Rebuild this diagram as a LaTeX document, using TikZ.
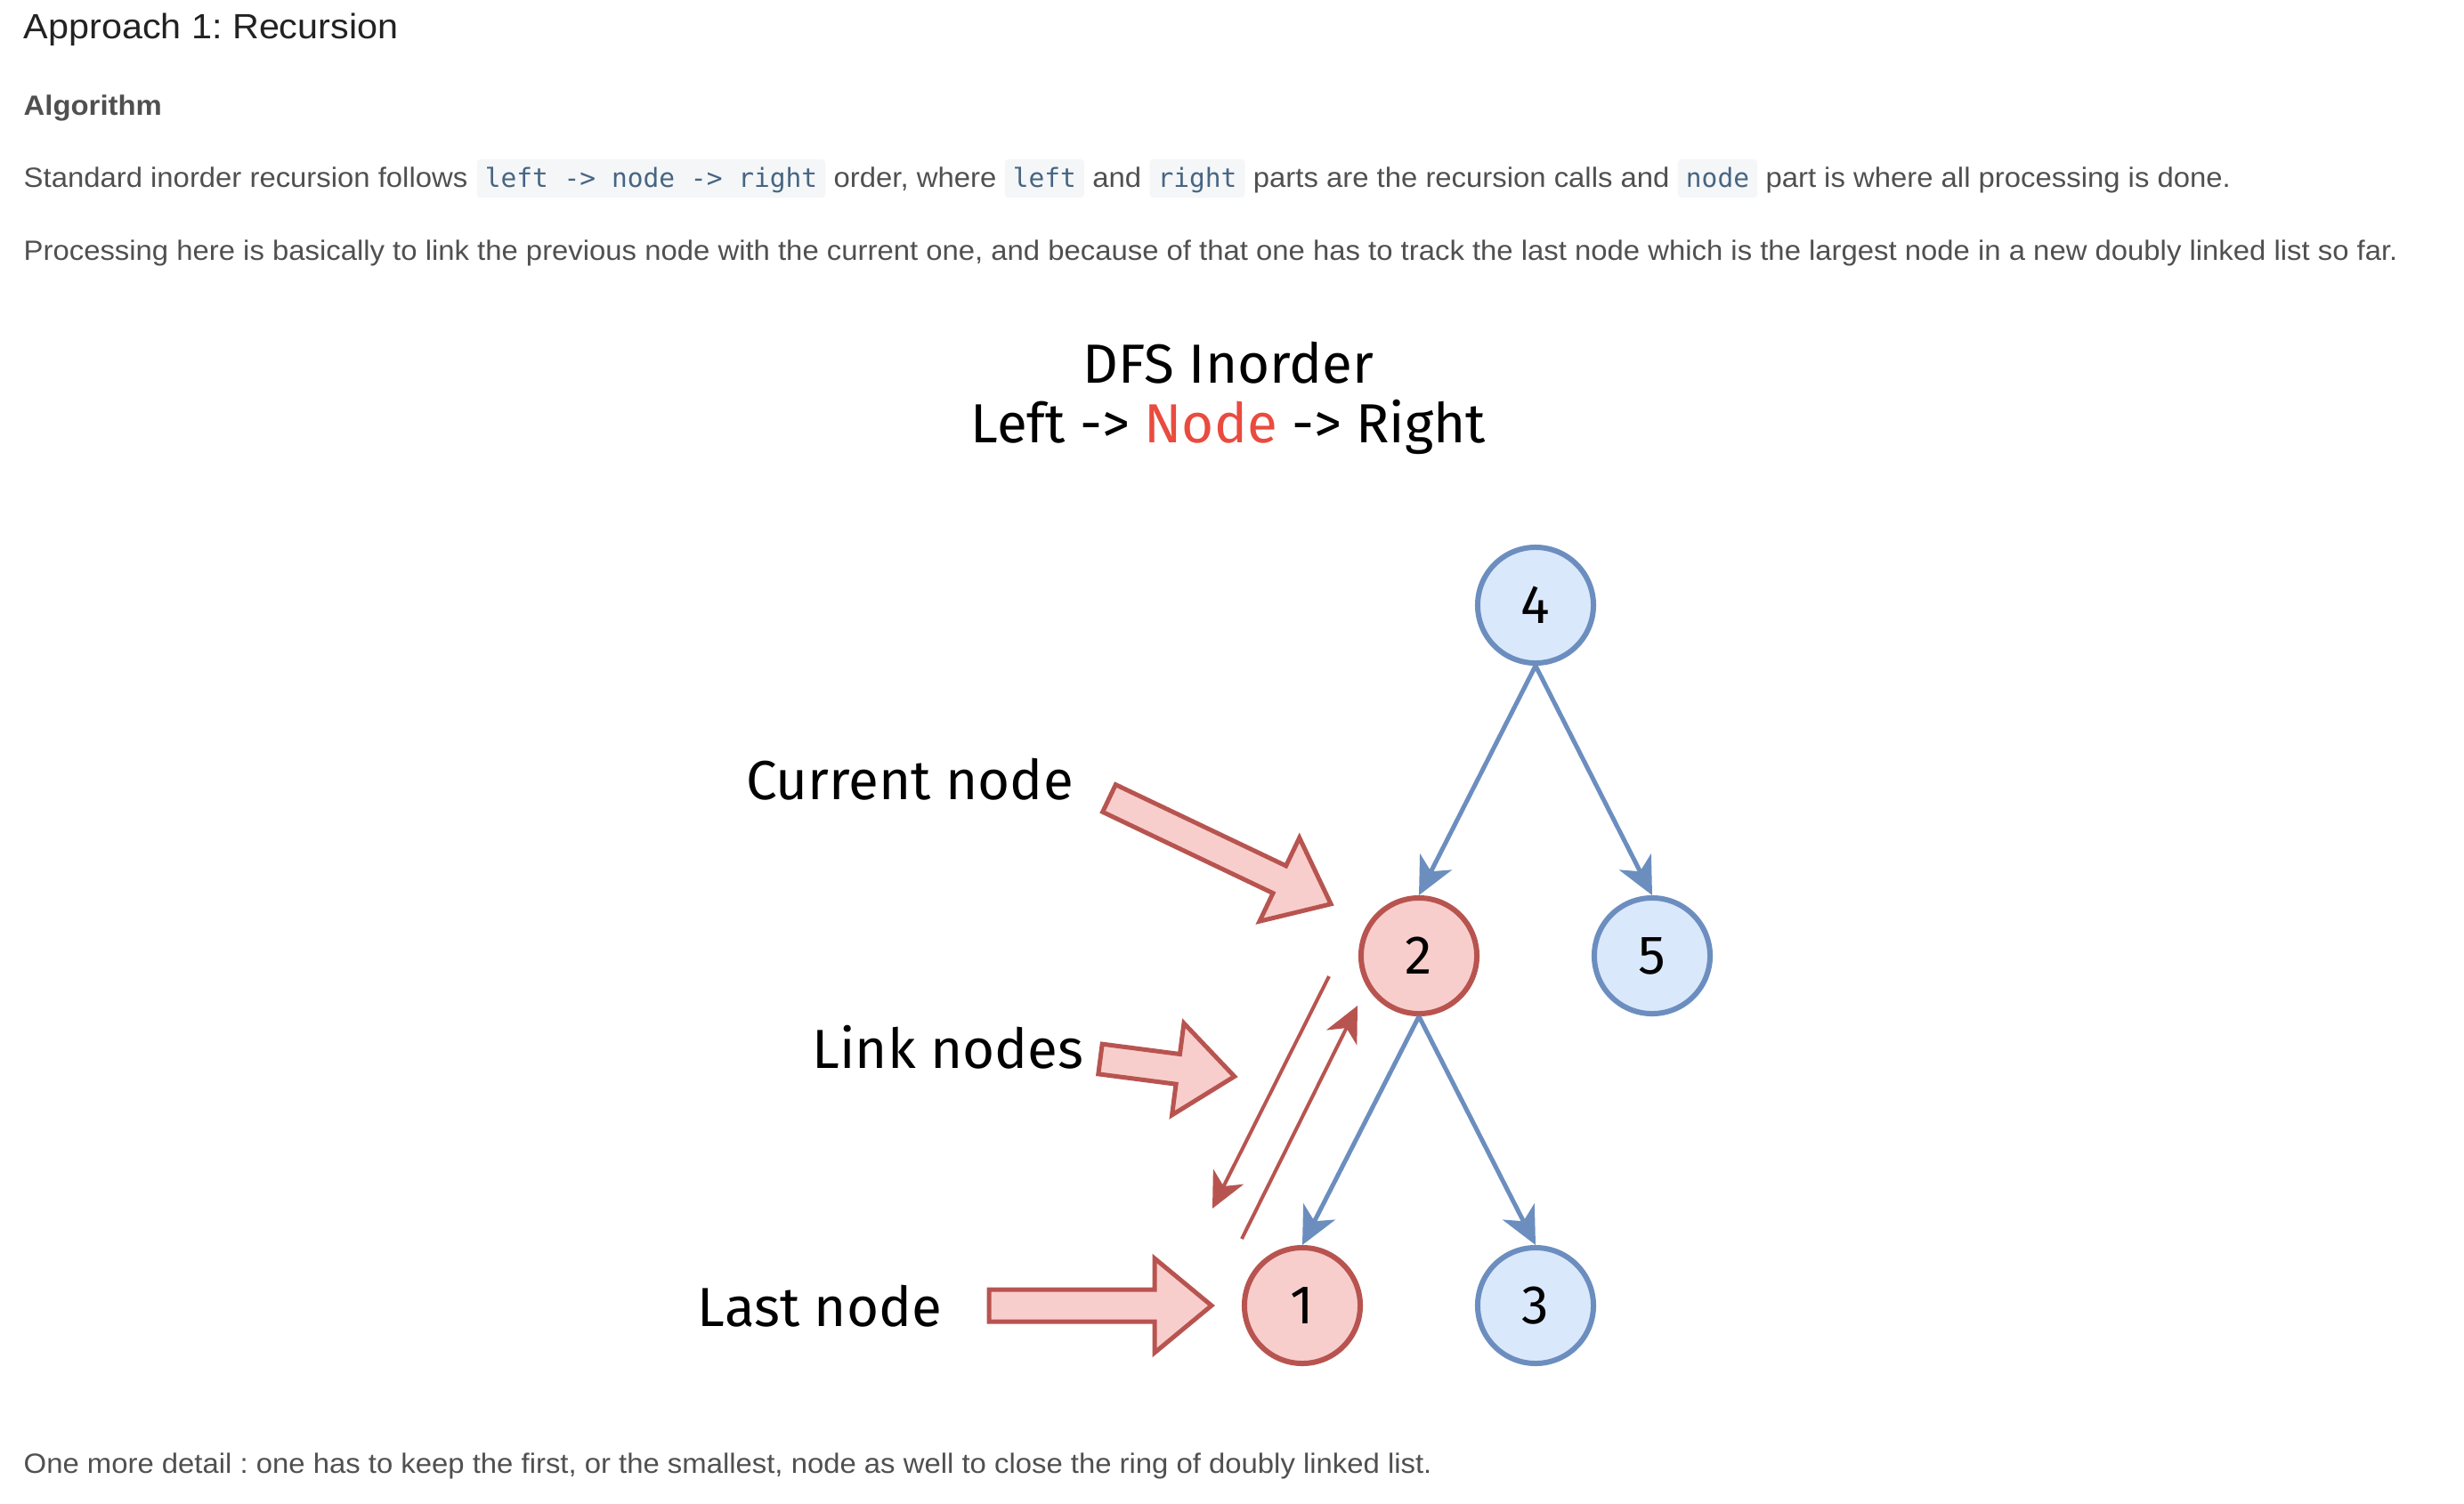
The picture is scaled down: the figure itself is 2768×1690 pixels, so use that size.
\documentclass[tikz,border=0pt]{standalone}
\usepackage{fontspec}
\setmainfont{Liberation Sans}
\newfontfamily\bodyfont[FakeStretch=1.05]{Liberation Sans}
\newfontfamily\handfont{Fira Sans}
\newfontfamily\codefont{DejaVu Sans Mono}
\usetikzlibrary{arrows.meta}
\frenchspacing
\definecolor{bodygray}{HTML}{505050}
\definecolor{headdark}{HTML}{222222}
\definecolor{codefg}{HTML}{476582}
\definecolor{codebg}{HTML}{F4F6F8}
\definecolor{nodered}{HTML}{EA4B3F}
\definecolor{bluefill}{HTML}{DAE8FC}
\definecolor{bluedraw}{HTML}{6C8EBF}
\definecolor{redfill}{HTML}{F8CECC}
\definecolor{reddraw}{HTML}{B85450}
\tikzset{
  bodytext/.style={inner sep=0pt, anchor=base west, text=bodygray,
    font=\bodyfont\fontsize{8.9pt}{10pt}\selectfont},
  codebox/.style={anchor=base west, fill=codebg, rounded corners=0.04cm,
    inner xsep=0.09cm, inner ysep=0pt, text height=0.31cm, text depth=0.12cm,
    text=codefg, font=\codefont\fontsize{8.4pt}{10pt}\selectfont},
  hand/.style={inner sep=0pt, anchor=base, text=black,
    font=\handfont\fontsize{17.6pt}{20pt}\selectfont},
  bluecirc/.style={circle, minimum size=1.30cm, inner sep=0pt, line width=0.06cm,
    draw=bluedraw, fill=bluefill, font=\handfont\fontsize{17.4pt}{20pt}\selectfont},
  redcirc/.style={bluecirc, draw=reddraw, fill=redfill},
  treeedge/.style={draw=bluedraw, line width=0.05cm,
    -{Stealth[length=0.42cm, width=0.40cm, inset=0.12cm]}},
  linkedge/.style={draw=reddraw, line width=0.04cm,
    -{Stealth[length=0.40cm, width=0.38cm, inset=0.12cm]}},
  fatarrow/.style={draw=reddraw, fill=redfill, line width=0.05cm, line join=miter},
}
\begin{document}
\begin{tikzpicture}[x=0.01cm, y=-0.01cm]
\fill[white] (0,0) rectangle (2768,1690);
\useasboundingbox (0,0) rectangle (2768,1690);

% header text
\node[inner sep=0pt, anchor=base west, text=headdark,
  font=\bodyfont\fontsize{11.2pt}{13pt}\selectfont] (head) at (26,43) {Approach 1: Recursion};
\node[bodytext, font=\bodyfont\bfseries\fontsize{8.9pt}{10pt}\selectfont] (algo) at (26,129) {Algorithm};

% line 1
\node[bodytext] (t1) at (26,210) {Standard inorder recursion follows};
\node[codebox] (c1) at ([xshift=0.09cm]t1.base east) {left -> node -> right};
\node[bodytext] (t2) at ([xshift=0.08cm]c1.base east) {order, where};
\node[codebox] (c2) at ([xshift=0.08cm]t2.base east) {left};
\node[bodytext] (t3) at ([xshift=0.08cm]c2.base east) {and};
\node[codebox] (c3) at ([xshift=0.08cm]t3.base east) {right};
\node[bodytext] (t4) at ([xshift=0.08cm]c3.base east) {parts are the recursion calls and};
\node[codebox] (c4) at ([xshift=0.08cm]t4.base east) {node};
\node[bodytext] (t5) at ([xshift=0.08cm]c4.base east) {part is where all processing is done.};

% line 2
\node[bodytext] (p2) at (26,292) {Processing here is basically to link the previous node with the current one, and because of that one has to track the last node which is the largest node in a new doubly linked list so far.};

% bottom line
\node[bodytext] (p3) at (26,1655) {One more detail : one has to keep the first, or the smallest, node as well to close the ring of doubly linked list.};

% diagram title
\node[hand] (title1) at (1380,430) {DFS Inorder};
\node[hand] (title2) at (1380,497) {Left -> {\color{nodered}Node} -> Right};

% tree nodes
\node[bluecirc] (n4) at (1725,680) {4};
\node[redcirc]  (n2) at (1594,1074) {2};
\node[bluecirc] (n5) at (1856,1074) {5};
\node[redcirc]  (n1) at (1463,1467) {1};
\node[bluecirc] (n3) at (1725,1467) {3};

\draw[treeedge] (n4.south) -- (n2.north);
\draw[treeedge] (n4.south) -- (n5.north);
\draw[treeedge] (n2.south) -- (n1.north);
\draw[treeedge] (n2.south) -- (n3.north);

% link arrows
\coordinate (ldA) at (1493,1097);
\coordinate (ldB) at (1362,1358);
\coordinate (luA) at (1395,1392);
\coordinate (luB) at (1525,1130);
\draw[linkedge] (ldA) -- (ldB);
\draw[linkedge] (luA) -- (luB);

% labels
\node[hand] (lcur) at (1022,898) {Current node};
\node[hand] (llink) at (1065,1200) {Link nodes};
\node[hand] (llast) at (921,1490) {Last node};

% block arrows
\begin{scope}[shift={(1246,897)}, rotate=-25.5]
  \draw[fatarrow] (0,-17) -- (212,-17) -- (212,-52) -- (276,0) -- (212,52) -- (212,17) -- (0,17) -- cycle;
\end{scope}
\begin{scope}[shift={(1236,1190)}, rotate=-7.4]
  \draw[fatarrow] (0,-17) -- (88,-17) -- (88,-52) -- (152,0) -- (88,52) -- (88,17) -- (0,17) -- cycle;
\end{scope}
\begin{scope}[shift={(1111,1467)}]
  \draw[fatarrow] (0,-18) -- (186,-18) -- (186,-53) -- (250,0) -- (186,53) -- (186,18) -- (0,18) -- cycle;
\end{scope}
\end{tikzpicture}
\end{document}
